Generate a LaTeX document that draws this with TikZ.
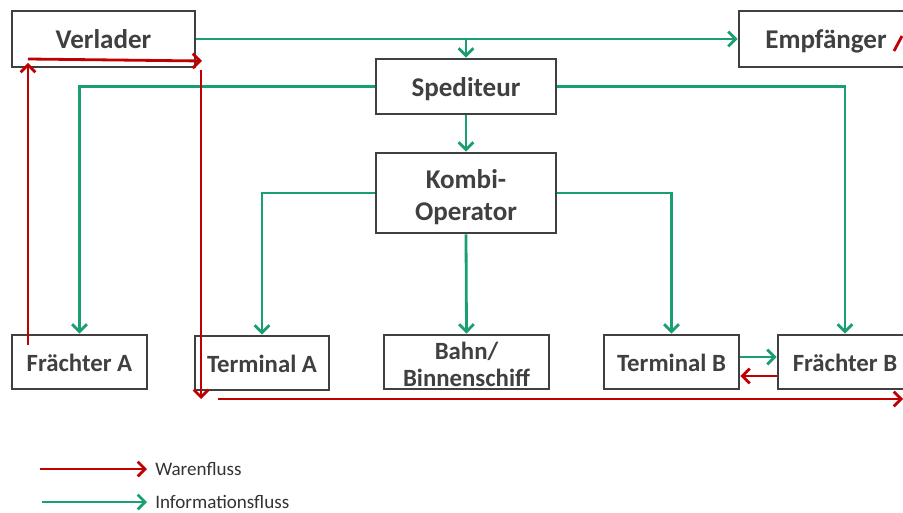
\documentclass[tikz,border=0pt]{standalone}
\usepackage{fontspec}
\setmainfont{Carlito}
\usetikzlibrary{arrows.meta,calc}
\definecolor{infogreen}{RGB}{26,158,116}
\definecolor{warered}{RGB}{192,0,0}
\definecolor{boxgray}{RGB}{64,64,64}
\newcommand{\capmid}[2]{\raisebox{-#1}[0pt][0pt]{#2}}
\tikzset{
  box/.style={draw=boxgray, line width=2.2pt, fill=white, inner sep=0pt, align=center, text=boxgray, font=\bfseries\fontsize{18.6}{20}\selectfont},
  bigbox/.style={box, font=\bfseries\fontsize{20.3}{23}\selectfont},
  info/.style={draw=infogreen, line width=2.1pt, -{Straight Barb[length=5.5pt,width=11pt,line width=2.1pt]}},
  infoline/.style={draw=infogreen, line width=2.1pt},
  ware/.style={draw=warered, line width=2.1pt, -{Straight Barb[length=5.5pt,width=11pt,line width=2.1pt]}},
  wareline/.style={draw=warered, line width=2.1pt},
  legend/.style={anchor=west, inner sep=0pt, text=boxgray!80!black, font=\fontsize{14.3}{16}\selectfont}
}
\begin{document}
\begin{tikzpicture}[x=0.75pt,y=-0.75pt]
\useasboundingbox (0,0) rectangle (903,513);
\clip (0,0) rectangle (903,513);
\fill[white] (0,0) rectangle (903,513);

% boxes
\node[bigbox, minimum width=183*0.75pt, minimum height=56*0.75pt] (verl) at (103.5,39) {\capmid{7.2pt}{Verlader}};
\node[bigbox, minimum width=174*0.75pt, minimum height=56*0.75pt] (empf) at (826,39) {\capmid{7.3pt}{Empfänger}};
\node[bigbox, minimum width=180*0.75pt, minimum height=55*0.75pt] (sped) at (466,86.5) {\capmid{7.6pt}{Spediteur}};
\node[bigbox, minimum width=180*0.75pt, minimum height=80*0.75pt, font=\bfseries\fontsize{20.3}{23.5}\selectfont] (kombi) at (466,193) {\rule{0pt}{20.5pt}Kombi-\\Operator};
\node[box, minimum width=135*0.75pt, minimum height=54*0.75pt] (fa) at (79.5,362) {\capmid{7.1pt}{Frächter A}};
\node[box, minimum width=134*0.75pt, minimum height=54*0.75pt] (ta) at (262,363) {\capmid{7.4pt}{Terminal A}};
\node[box, minimum width=165*0.75pt, minimum height=54*0.75pt, font=\bfseries\fontsize{18.6}{20}\selectfont] (bahn) at (466.5,362) {\rule{0pt}{17pt}Bahn/\\Binnenschiff};
\node[box, minimum width=135*0.75pt, minimum height=54*0.75pt] (tb) at (671.5,362) {\capmid{6.9pt}{Terminal B}};
\node[box, minimum width=134*0.75pt, minimum height=54*0.75pt] (fb) at (845,362) {\capmid{6.9pt}{Frächter B}};

% information flow
\draw[info] (verl.east) -- (empf.west);
\coordinate (j1) at (466,39);
\draw[info] (j1) -- (sped.north);
\draw[info] (sped.west) -| (fa.north);
\draw[info] (sped.east) -| (fb.north);
\draw[info] (sped.south) -- (kombi.north);
\draw[info] (kombi.west) -| (ta.north);
\draw[info] (kombi.south) -- (bahn.north);
\draw[info] (kombi.east) -| (tb.north);
\draw[info] ($(tb.east)+(0,-5)$) -- ($(fb.west)+(0,-5)$);

% goods flow
\draw[ware] ($(fb.west)+(0,14)$) -- ($(tb.east)+(0,14)$);
\coordinate (r1) at (28,345);
\coordinate (r2) at (28,63);
\draw[ware] (r1) -- (r2);
\coordinate (r3) at (28,59);
\coordinate (r4) at (202,61);
\draw[ware] (r3) -- (r4);
\coordinate (r5) at (201,70);
\coordinate (r6) at (201,399);
\draw[ware] (r5) -- (r6);
\coordinate (r7) at (218,399);
\coordinate (r8) at (903,399);
\draw[ware] (r7) -- (r8);
\coordinate (r9) at (894,51);
\coordinate (r10) at (902,36);
\draw[wareline] (r9) -- (r10);

% legend
\coordinate (l1) at (40,469);
\coordinate (l2) at (147,469);
\draw[ware] (l1) -- (l2);
\node[legend] (lw) at (155,469) {Warenfluss};
\coordinate (l3) at (42,502);
\coordinate (l4) at (147,502);
\draw[info] (l3) -- (l4);
\node[legend] (li) at (155,502) {Informationsfluss};
\end{tikzpicture}
\end{document}
